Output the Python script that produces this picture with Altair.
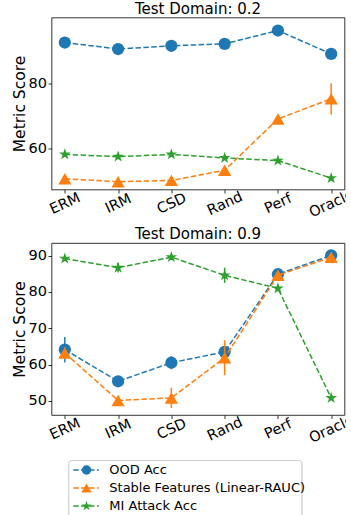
import altair as alt
import pandas as pd

methods = ["ERM", "IRM", "CSD", "Rand", "Perf", "Oracle"]
series_names = ["OOD Acc", "Stable Features (Linear-RAUC)", "MI Attack Acc"]
colors = ["#1f77b4", "#ff7f0e", "#2ca02c"]

# Test Domain: 0.2
ood_02 = [92.6, 90.6, 91.6, 92.2, 96.3, 89.1]
ood_02_err = [0.3, 0.3, 0.3, 0.3, 0.4, 0.3]
stable_02 = [50.7, 49.8, 50.2, 53.3, 69.1, 75.3]
stable_02_err = [0.3, 0.3, 0.3, 0.4, 0.6, 4.8]
mi_02 = [58.2, 57.5, 58.2, 57.1, 56.3, 50.9]
mi_02_err = [0.4, 0.4, 0.4, 0.4, 0.4, 0.3]

# Test Domain: 0.9
ood_09 = [64.1, 55.4, 60.5, 63.5, 84.9, 90.1]
ood_09_err = [3.5, 1.0, 1.8, 1.5, 0.8, 0.5]
stable_09 = [63.2, 50.1, 50.8, 61.9, 84.6, 89.6]
stable_09_err = [1.5, 0.5, 2.8, 4.8, 1.0, 0.5]
mi_09 = [89.2, 86.7, 89.6, 84.6, 81.0, 50.8]
mi_09_err = [0.5, 1.3, 0.8, 2.1, 0.8, 0.5]

ydomain_02 = [47.4, 100.3]
yticks_02 = [60, 80]
ydomain_09 = [46.1, 93.5]
yticks_09 = [50, 60, 70, 80, 90]

FONT = "DejaVu Sans"
DASH = [5.5, 2.4]


def star_path(r_out, r_in_ratio=0.382):
    import math
    pts = []
    for k in range(10):
        ang = math.radians(-90 + 36 * k)
        r = r_out if k % 2 == 0 else r_out * r_in_ratio
        pts.append((r * math.cos(ang), r * math.sin(ang)))
    return "M" + "L".join(f"{x:.3f},{y:.3f}" for x, y in pts) + "Z"


STAR = star_path(1.0)
shapes = ["circle", "triangle-up", STAR]
plot_sizes = [150, 175, 150]
legend_sizes = [88, 110, 110]

cscale = alt.Scale(domain=series_names, range=colors)


def panel(title, vals, errs, ydomain, yticks):
    rows = []
    for s, vv, ee in zip(series_names, vals, errs):
        for i, (m, v, e) in enumerate(zip(methods, vv, ee)):
            rows.append({"idx": i, "method": m, "series": s, "value": v,
                         "lo": v - e, "hi": v + e})
    df = pd.DataFrame(rows)
    x = alt.X("method:N", sort=methods,
              scale=alt.Scale(type="point", padding=0.25),
              axis=alt.Axis(title=None, labelAngle=335, labelAlign="center",
                            labelBaseline="middle", labelPadding=10.5,
                            labelOverlap=False))
    yscale = alt.Scale(domain=ydomain, nice=False, zero=False)
    yaxis = alt.Axis(title="Metric Score", values=yticks, labelPadding=1.5,
                     titlePadding=1)
    color = alt.Color("series:N", scale=cscale, legend=None)
    layers = []
    for s, shp, sz in zip(series_names, shapes, plot_sizes):
        base = alt.Chart(df).transform_filter(alt.datum.series == s)
        layers.append(base.mark_rule(strokeWidth=1.5).encode(
            x=x, y=alt.Y("lo:Q", scale=yscale, axis=yaxis), y2="hi:Q", color=color))
        layers.append(base.mark_line(strokeDash=DASH, strokeWidth=1.5).encode(
            x=x, y=alt.Y("value:Q", scale=yscale, axis=yaxis), color=color,
            order="idx:Q"))
        layers.append(base.mark_point(filled=True, opacity=1, shape=shp, size=sz).encode(
            x=x, y=alt.Y("value:Q", scale=yscale, axis=yaxis), color=color))
    return alt.layer(*layers).properties(
        width=293, height=172,
        title=alt.Title(title, fontSize=15, font=FONT, fontWeight="normal",
                        color="black", offset=1),
    )


top = panel("Test Domain: 0.2", [ood_02, stable_02, mi_02],
            [ood_02_err, stable_02_err, mi_02_err], ydomain_02, yticks_02)
bottom = panel("Test Domain: 0.9", [ood_09, stable_09, mi_09],
               [ood_09_err, stable_09_err, mi_09_err], ydomain_09, yticks_09)

# ---- legend box (frame, then line + marker + label per series) ----
BOX_L, BOX_R, BOX_H = 17.3, 250.3, 62
leg_df = pd.DataFrame({"series": series_names})
ly = alt.Y("series:N", sort=series_names, axis=None,
           scale=alt.Scale(type="point", domain=series_names, range=[9.5, 45.5],
                           padding=0))
lcolor = alt.Color("series:N", scale=cscale, legend=None)
leg_layers = [
    alt.Chart(leg_df).mark_rect(fill="white", stroke="#d0d0d0", strokeWidth=1,
                                cornerRadius=3).encode(
        x=alt.value(BOX_L), x2=alt.value(BOX_R), y=alt.value(0), y2=alt.value(BOX_H)),
    alt.Chart(leg_df).mark_rule(strokeDash=DASH, strokeWidth=1.5).encode(
        x=alt.value(BOX_L + 4.4), x2=alt.value(BOX_L + 30), y=ly, color=lcolor),
]
for s, shp, sz in zip(series_names, shapes, legend_sizes):
    leg_layers.append(
        alt.Chart(leg_df).transform_filter(alt.datum.series == s)
        .mark_point(filled=True, opacity=1, shape=shp, size=sz)
        .encode(x=alt.value(BOX_L + 17.7), y=ly, color=lcolor))
leg_layers.append(
    alt.Chart(leg_df).mark_text(align="left", baseline="middle", font=FONT,
                                fontSize=13, color="black")
    .encode(x=alt.value(BOX_L + 40.5), y=ly, text="series:N"))
legend_box = alt.layer(*leg_layers).properties(
    width=BOX_R, height=BOX_H,
    view=alt.ViewBackground(strokeOpacity=0),
)

chart = (
    alt.vconcat(alt.vconcat(top, bottom, spacing=5.5), legend_box, spacing=14)
    .properties(padding={"left": 11.5, "top": 0.5, "right": -10.5, "bottom": -9})
    .configure_view(stroke="black", strokeWidth=0.8)
    .configure_axis(labelFont=FONT, titleFont=FONT, labelFontSize=14.5,
                    titleFontSize=15.5, titleFontWeight="normal",
                    labelColor="black", titleColor="black", tickColor="black",
                    tickSize=3.5, tickWidth=0.8, grid=False, domain=False)
)

chart.save("out.html", embed_options={"renderer": "svg", "actions": False})
